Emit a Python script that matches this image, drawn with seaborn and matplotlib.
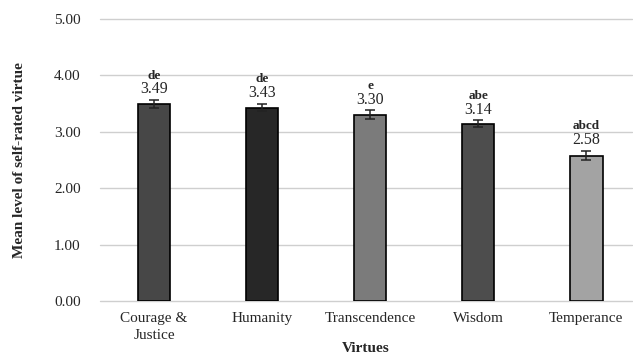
import pandas as pd
import seaborn as sns
import matplotlib.pyplot as plt

# Data
virtues = ["Courage &\nJustice", "Humanity", "Transcendence", "Wisdom", "Temperance"]
means = [3.49, 3.43, 3.30, 3.14, 2.58]
errors = [0.07, 0.06, 0.08, 0.06, 0.08]
letters = ["de", "de", "e", "abe", "abcd"]
bar_colors = ["#474747", "#272727", "#7b7b7b", "#4d4d4d", "#a3a3a3"]
y_ticks = [0, 1, 2, 3, 4, 5]

df = pd.DataFrame({"virtue": virtues, "mean": means, "err": errors})

sns.set_style("white")
plt.rcParams["font.family"] = ["Liberation Serif", "DejaVu Serif"]

fig = plt.figure(figsize=(6.33, 3.56), dpi=100)
ax = fig.add_axes([0.158, 0.154, 0.84, 0.793])

sns.barplot(data=df, x="virtue", y="mean", hue="virtue", palette=bar_colors,
            legend=False, width=0.3, edgecolor="black", linewidth=1.2, ax=ax, zorder=3)
ax.errorbar(range(len(virtues)), df["mean"], yerr=df["err"], fmt="none",
            ecolor="#222222", elinewidth=1.1, capsize=3.5, capthick=1.1, zorder=4)

for i, (m, e, lab) in enumerate(zip(means, errors, letters)):
    top = m + e
    ax.text(i, top + 0.05, f"{m:.2f}", ha="center", va="bottom", fontsize=11.5)
    ax.text(i, top + 0.33, lab, ha="center", va="bottom", fontsize=9.5, fontweight="bold")

ax.set_ylim(0, 5)
ax.set_xlim(-0.5, 4.42)
ax.set_yticks(y_ticks)
ax.set_yticklabels([f"{t:.2f}" for t in y_ticks], fontsize=11)
ax.tick_params(axis="x", labelsize=11, length=0, pad=8)
ax.tick_params(axis="y", length=0, pad=14)
for t in ax.get_xticklabels():
    t.set_linespacing(1.35)
ax.yaxis.grid(True, color="#cfcfcf", linewidth=1)
for gl in ax.yaxis.get_gridlines():
    gl.set_clip_on(False)
ax.set_axisbelow(True)
for s in ax.spines.values():
    s.set_visible(False)

ax.set_xlabel("Virtues", fontsize=11, fontweight="bold", labelpad=0)
ax.set_ylabel("Mean level of self-rated virtue", fontsize=11, fontweight="bold", labelpad=20)

fig.savefig("out.png", dpi=100)
